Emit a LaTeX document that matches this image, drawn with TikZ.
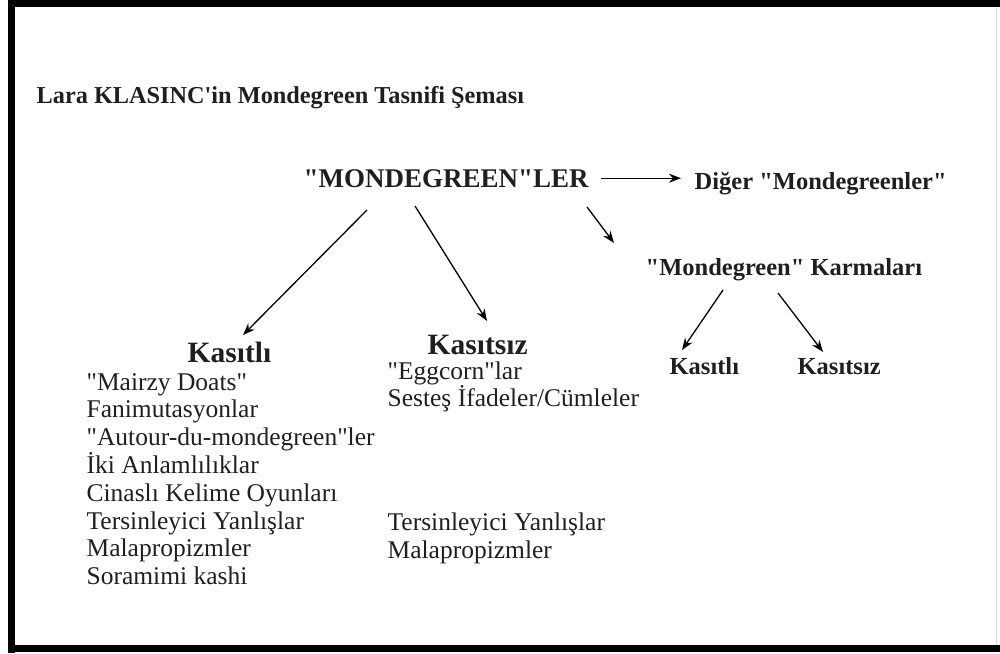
\documentclass[tikz,border=0pt]{standalone}
\usepackage{fontspec}
\setmainfont{Liberation Serif}[Ligatures=TeXOff]
\usetikzlibrary{arrows.meta}
\tikzset{
  titletxt/.style={font=\fontsize{24.3}{28}\selectfont\bfseries},
  roottxt/.style={font=\fontsize{27}{30}\selectfont\bfseries},
  subtxt/.style={font=\fontsize{24.5}{28}\selectfont\bfseries},
  kindtxt/.style={font=\fontsize{29.5}{32}\selectfont\bfseries},
  itemtxt/.style={font=\fontsize{25.5}{28}\selectfont}
}
\begin{document}
\begin{tikzpicture}[x=1pt, y=-1pt, >={Stealth[length=12pt,width=9pt]}, line width=1.3pt,
    every node/.style={inner sep=0, anchor=base west, text=black!88}]
  \useasboundingbox (0,0) rectangle (1000,653);
  % frame
  \fill (8,0) rectangle (15,653);
  \fill (8,0) rectangle (1000,7);
  \fill (8,645) rectangle (1000,652);
  \draw[black!15, line width=1pt] (996,7) -- (996,645);

  \node[titletxt] (title) at (36,103) {Lara KLASINC'in Mondegreen Tasnifi Şeması};
  \node[roottxt] (mond) at (303,187) {"MONDEGREEN"LER};
  \node[subtxt] (diger) at (694,189) {Diğer "Mondegreenler"};
  \node[subtxt] (karma) at (645,275) {"Mondegreen" Karmaları};
  \node[subtxt] (kasl2) at (669,374) {Kasıtlı};
  \node[subtxt] (kass2) at (797,374) {Kasıtsız};
  \node[kindtxt] (kasl) at (187,362) {Kasıtlı};
  \node[kindtxt] (kass) at (427,354) {Kasıtsız};

  % lists
  \foreach \t [count=\i] in {"Mairzy Doats", Fanimutasyonlar, "Autour-du-mondegreen"ler,
      İki Anlamlılıklar, Cinaslı Kelime Oyunları, Tersinleyici Yanlışlar,
      Malapropizmler, Soramimi kashi}
    \node[itemtxt] (kl\i) at (86,{390+27.8*(\i-1)}) {\t};
  \node[itemtxt] (ks1) at (387,379) {"Eggcorn"lar};
  \node[itemtxt] (ks2) at (387,406) {Sesteş İfadeler/Cümleler};
  \node[itemtxt] (ks3) at (387,530) {Tersinleyici Yanlışlar};
  \node[itemtxt] (ks4) at (387,558) {Malapropizmler};

  % arrows
  \draw [->] ([xshift=12pt]mond.east) -- ([xshift=-13pt]mond.east -| diger.west);
  \draw [->] ([shift={(64,23)}]mond.base west) -- ([shift={(56,-27)}]kasl.base west);
  \draw [->] ([shift={(112,19)}]mond.base west) -- ([shift={(60,-33)}]kass.base west);
  \draw [->] ([shift={(284,20)}]mond.base west) -- ([shift={(-31,-32)}]karma.base west);
  \draw [->] ([shift={(78,15)}]karma.base west) -- ([shift={(13,-24)}]kasl2.base west);
  \draw [->] ([shift={(133,18)}]karma.base west) -- ([shift={(26,-22)}]kass2.base west);
\end{tikzpicture}
\end{document}
